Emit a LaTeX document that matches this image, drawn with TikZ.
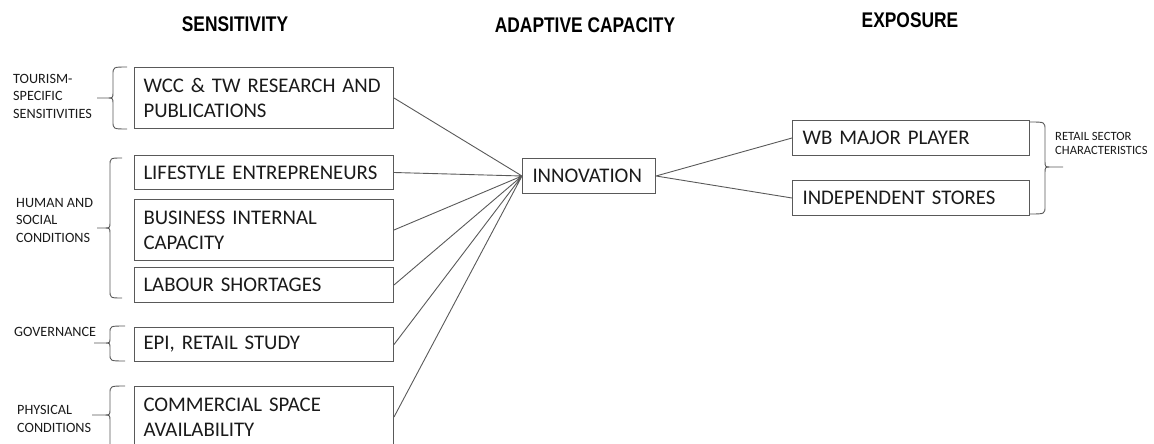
\documentclass[tikz,border=0pt]{standalone}
\usepackage{fontspec}
\setmainfont{Carlito}
\newfontfamily\headfont[FakeStretch=0.82]{Liberation Sans}
\usetikzlibrary{positioning}

\definecolor{edgegray}{HTML}{595959}
\definecolor{inkblack}{HTML}{1A1A1A}

\tikzset{
  box/.style={draw=edgegray, line width=1pt, anchor=north west, inner xsep=9pt, inner ysep=1pt,
    text width=241pt, align=left, text=inkblack, font=\fontsize{20.8}{25}\selectfont},
  lbl/.style={anchor=west, inner sep=0pt, align=left, text=inkblack, font=\fontsize{14.2}{17.5}\selectfont},
  head/.style={anchor=base, inner sep=0pt, text=black, font=\headfont\bfseries\fontsize{21.2}{24}\selectfont},
  brc/.style={draw=edgegray, line width=0.9pt},
  link/.style={draw=edgegray, line width=0.9pt}
}

\begin{document}
\begin{tikzpicture}[x=1pt, y=-1pt]
    \useasboundingbox (0,0) rectangle (1154,444);
    \clip (0,0) rectangle (1154,444);

    % column headings
    \node[head] (hsens) at (235,32) {SENSITIVITY};
    \node[head] (hadapt) at (585,33) {ADAPTIVE CAPACITY};
    \node[head] (hexpo) at (910,28) {EXPOSURE};

    % sensitivity boxes
    \node[box, minimum height=61pt] (wcc) at (134,67) {WCC \& TW RESEARCH AND\\PUBLICATIONS};
    \node[box, minimum height=34pt] (life) at (134,155) {LIFESTYLE ENTREPRENEURS};
    \node[box, minimum height=61pt] (capa) at (134,199) {BUSINESS INTERNAL\\CAPACITY};
    \node[box, minimum height=35pt] (labour) at (134,267) {LABOUR SHORTAGES};
    \node[box, minimum height=34pt] (epi) at (134,327) {EPI, RETAIL STUDY};
    \node[box, minimum height=61pt] (space) at (134,386) {COMMERCIAL SPACE\\AVAILABILITY};

    % adaptive capacity
    \node[box, text width=113pt, inner xsep=10pt, minimum height=35pt] (innov) at (522,158) {INNOVATION};

    % exposure boxes
    \node[box, text width=217pt, inner xsep=10pt, minimum height=35pt] (wb) at (792,120) {WB MAJOR PLAYER};
    \node[box, text width=217pt, inner xsep=10pt, minimum height=35pt] (indep) at (792,180) {INDEPENDENT STORES};

    % group labels
    \node[lbl] (tour) at (13,96) {TOURISM-\\SPECIFIC\\SENSITIVITIES};
    \node[lbl] (human) at (16,220) {HUMAN AND\\SOCIAL\\CONDITIONS};
    \node[lbl] (gov) at (14,332) {GOVERNANCE};
    \node[lbl] (phys) at (17,419) {PHYSICAL\\CONDITIONS};
    \node[lbl, font=\fontsize{12.6}{14}\selectfont] (retail) at (1055,143.5) {RETAIL SECTOR\\CHARACTERISTICS};

    % braces
    \draw[brc] (127,67) .. controls (113,67) .. (113,75) -- (113,92) .. controls (113,98) .. (107,98) -- (97,98)
      (107,98) .. controls (113,98) .. (113,104) -- (113,121) .. controls (113,129) .. (127,129);
    \draw[brc] (122,158) .. controls (110,158) .. (110,166) -- (110,222) .. controls (110,228) .. (104,228) -- (97,228)
      (104,228) .. controls (110,228) .. (110,234) -- (110,290) .. controls (110,298) .. (122,298);
    \draw[brc] (125,326) .. controls (110,326) .. (110,333) -- (110,338) .. controls (110,343) .. (104,343) -- (94,343)
      (104,343) .. controls (110,343) .. (110,348) -- (110,354) .. controls (110,361) .. (125,361);
    \draw[brc] (125,386) .. controls (110,386) .. (110,394) -- (110,409) .. controls (110,415) .. (104,415) -- (92,415)
      (104,415) .. controls (110,415) .. (110,421) -- (110,450);
    \draw[brc] (1030,122) .. controls (1045,122) .. (1045,130) -- (1045,161) .. controls (1045,167) .. (1051,167) -- (1063,167)
      (1051,167) .. controls (1045,167) .. (1045,173) -- (1045,206) .. controls (1045,214) .. (1030,214);

    % links
    \draw[link]
    (innov.west) -- (wcc.east)
    (innov.west) -- (life.east)
    (innov.west) -- (capa.east)
    (innov.west) -- (labour.east)
    (innov.west) -- (epi.east)
    (innov.west) -- (space.east)
    (innov.east) -- (wb.west)
    (innov.east) -- (indep.west)
;

\end{tikzpicture}
\end{document}
